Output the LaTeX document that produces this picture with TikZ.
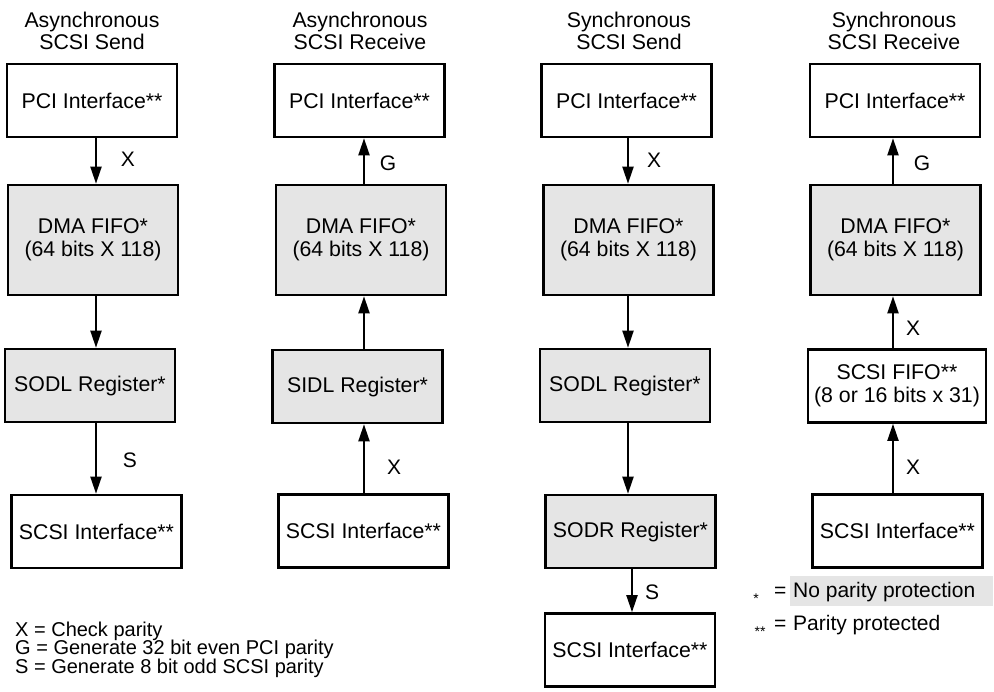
\documentclass[tikz,border=0pt]{standalone}
\usepackage{fontspec}
\setmainfont{Liberation Sans}
\usetikzlibrary{arrows.meta}
\definecolor{boxgray}{HTML}{E5E5E5}
\begin{document}
\begin{tikzpicture}[x=1pt,y=-1pt,
  blk/.style={draw, line width=2.6pt, minimum width=170pt, minimum height=73pt,
              inner sep=0pt, align=center, font=\fontsize{21.3}{23}\selectfont},
  reg/.style={blk, fill=boxgray},
  fifo/.style={reg, minimum height=110pt},
  flow/.style={line width=2pt, -{Triangle[length=17pt,width=11pt]}},
  tag/.style={font=\fontsize{21}{23}\selectfont, inner sep=0pt},
  title/.style={font=\fontsize{21.3}{22}\selectfont, inner sep=0pt, anchor=base},
  key/.style={font=\fontsize{20}{20}\selectfont, inner sep=0pt, anchor=base west},
  note/.style={font=\fontsize{21}{22}\selectfont, inner sep=0pt, anchor=base west},
  starkey/.style={font=\fontsize{14}{14}\selectfont, inner sep=0pt, anchor=base},
]
\useasboundingbox (0,0) rectangle (994,692);

% ---- column titles
\node[title] (t1a) at (92,28) {Asynchronous};
\node[title] (t1b) at (92,50) {SCSI Send};
\node[title] (t2a) at (360,28) {Asynchronous};
\node[title] (t2b) at (360,50) {SCSI Receive};
\node[title] (t3a) at (629,28) {Synchronous};
\node[title] (t3b) at (629,50) {SCSI Send};
\node[title] (t4a) at (894,28) {Synchronous};
\node[title] (t4b) at (894,50) {SCSI Receive};

% ---- asynchronous send
\node[blk]  (a1) at (92,100.5)  {PCI Interface**};
\node[fifo] (a2) at (93,240)    {DMA FIFO*\\(64 bits X 118)};
\node[reg]  (a3) at (90,385.5)  {SODL Register*};
\node[blk]  (a4) at (96.5,531.5){SCSI Interface**};
\coordinate (ax1) at (96,0);
\draw[flow] (a1.south -| ax1) -- (a2.north -| ax1);
\draw[flow] (a2.south -| ax1) -- (a3.north -| ax1);
\draw[flow] (a3.south -| ax1) -- (a4.north -| ax1);
\node[tag] (la1) at (128,159) {X};
\node[tag] (la3) at (130,460) {S};

% ---- asynchronous receive
\node[blk]  (b1) at (359.5,100.5) {PCI Interface**};
\node[fifo] (b2) at (361,240)     {DMA FIFO*\\(64 bits X 118)};
\node[reg]  (b3) at (357.5,386.5) {SIDL Register*};
\node[blk]  (b4) at (363.5,531)   {SCSI Interface**};
\coordinate (ax2) at (364,0);
\draw[flow] (b2.north -| ax2) -- (b1.south -| ax2);
\draw[flow] (b3.north -| ax2) -- (b2.south -| ax2);
\draw[flow] (b4.north -| ax2) -- (b3.south -| ax2);
\node[tag] (lb1) at (388,163) {G};
\node[tag] (lb3) at (394,467) {X};

% ---- synchronous send
\node[blk]  (c1) at (626.5,100.5) {PCI Interface**};
\node[fifo] (c2) at (628.5,240)   {DMA FIFO*\\(64 bits X 118)};
\node[reg]  (c3) at (625,385.5)   {SODL Register*};
\node[reg]  (c4) at (630.5,531.5) {SODR Register*};
\node[blk]  (c5) at (630,650)     {SCSI Interface**};
\coordinate (ax3) at (628,0);
\coordinate (ax3b) at (632,0);
\draw[flow] (c1.south -| ax3) -- (c2.north -| ax3);
\draw[flow] (c2.south -| ax3) -- (c3.north -| ax3);
\draw[flow] (c3.south -| ax3) -- (c4.north -| ax3);
\draw[flow] (c4.south -| ax3b) -- (c5.north -| ax3b);
\node[tag] (lc1) at (654,160) {X};
\node[tag] (lc4) at (652,592) {S};

% ---- synchronous receive
\node[blk]  (d1) at (895,100.5) {PCI Interface**};
\node[fifo] (d2) at (895.5,240) {DMA FIFO*\\(64 bits X 118)};
\node[blk, minimum width=178pt] (d3) at (897,386) {SCSI FIFO**\\(8 or 16 bits x 31)};
\node[blk]  (d4) at (897.5,531) {SCSI Interface**};
\coordinate (ax4) at (893,0);
\draw[flow] (d2.north -| ax4) -- (d1.south -| ax4);
\draw[flow] (d3.north -| ax4) -- (d2.south -| ax4);
\draw[flow] (d4.north -| ax4) -- (d3.south -| ax4);
\node[tag] (ld1) at (922,163) {G};
\node[tag] (ld2) at (913,328) {X};
\node[tag] (ld3) at (913,467) {X};

% ---- legend: parity operations
\node[key] (k1) at (15,636) {X = Check parity};
\node[key] (k2) at (15,654.5) {G = Generate 32 bit even PCI parity};
\node[key] (k3) at (15,673) {S = Generate 8 bit odd SCSI parity};

% ---- legend: protection marks
\fill[boxgray] (790,576) rectangle (993,606);
\node[starkey] (s1) at (756,603) {*};
\node[note] (e1) at (774,597) {=};
\node[note] (n1) at (793,597) {No parity protection};
\node[starkey] (s2) at (760,636) {**};
\node[note] (e2) at (774,630) {=};
\node[note] (n2) at (793,630) {Parity protected};
\end{tikzpicture}
\end{document}
